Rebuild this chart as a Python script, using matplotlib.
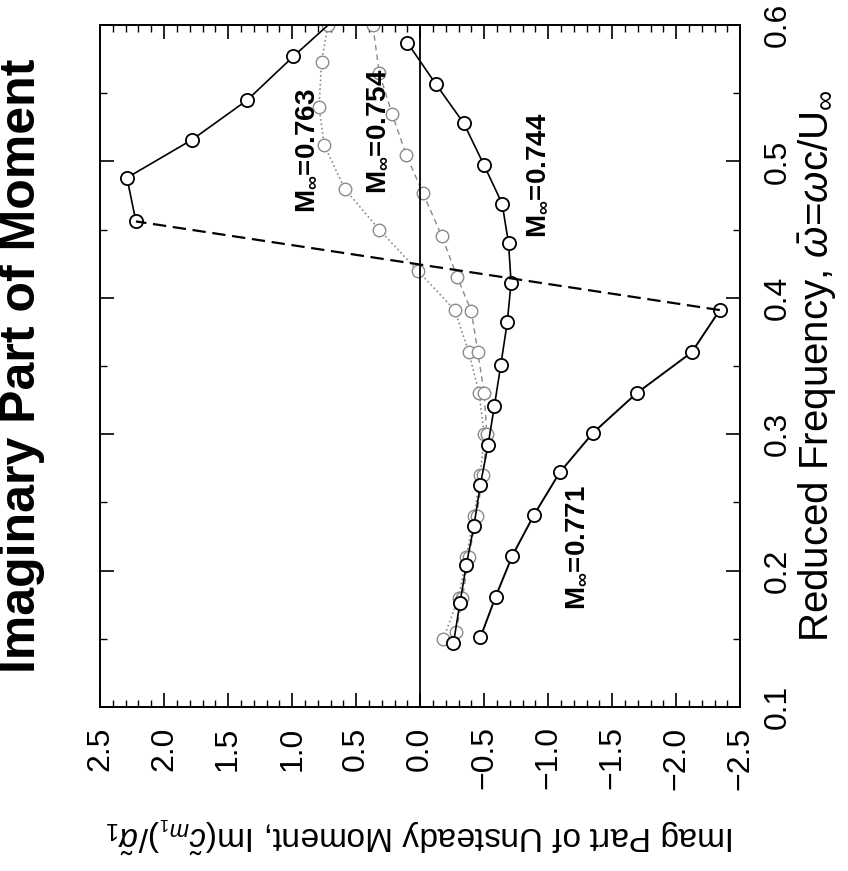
import matplotlib
matplotlib.use('Agg')
import matplotlib.pyplot as plt
from matplotlib.ticker import MultipleLocator

plt.rcParams['font.family'] = ['Liberation Sans', 'DejaVu Sans']
plt.rcParams['mathtext.fontset'] = 'custom'
plt.rcParams['mathtext.rm'] = 'Liberation Sans'
plt.rcParams['mathtext.it'] = 'Liberation Sans:italic'
plt.rcParams['mathtext.bf'] = 'Liberation Sans:bold'

# M=0.771 (solid, with jump between 0.391 and 0.456)
freq_771 = [0.151, 0.181, 0.211, 0.241, 0.272, 0.301, 0.330, 0.360, 0.391,
            0.456, 0.488, 0.516, 0.545, 0.577, 0.605]
im_771 = [-0.47, -0.59, -0.72, -0.89, -1.09, -1.35, -1.69, -2.12, -2.34,
          2.22, 2.29, 1.78, 1.35, 0.99, 0.66]

# M=0.744 (solid)
freq_744 = [0.147, 0.176, 0.204, 0.233, 0.263, 0.292, 0.321, 0.351, 0.382,
            0.411, 0.440, 0.469, 0.497, 0.528, 0.557, 0.587]
im_744 = [-0.26, -0.31, -0.36, -0.42, -0.47, -0.53, -0.58, -0.63, -0.68,
          -0.71, -0.69, -0.64, -0.50, -0.34, -0.12, 0.10]

# M=0.754 (dashed, grey)
freq_754 = [0.155, 0.180, 0.210, 0.240, 0.270, 0.300, 0.330, 0.360, 0.390,
            0.415, 0.445, 0.477, 0.505, 0.535, 0.565, 0.600]
im_754 = [-0.28, -0.33, -0.38, -0.44, -0.49, -0.52, -0.50, -0.45, -0.40,
          -0.29, -0.17, -0.02, 0.11, 0.22, 0.32, 0.37]

# M=0.763 (dotted, grey)
freq_763 = [0.150, 0.180, 0.210, 0.240, 0.270, 0.300, 0.330, 0.360, 0.391,
            0.420, 0.450, 0.480, 0.512, 0.540, 0.573, 0.600]
im_763 = [-0.18, -0.30, -0.36, -0.42, -0.47, -0.50, -0.46, -0.38, -0.27,
          0.02, 0.32, 0.59, 0.75, 0.79, 0.77, 0.72]

fig = plt.figure(figsize=(8.48, 8.71), dpi=100)
ax = fig.add_axes([0.118, 0.1883, 0.755, 0.783])

gray = '#8a8a8a'
ax.plot(im_763, freq_763, linestyle=':', color=gray, lw=1.2, marker='o',
        ms=9, mfc='white', mec=gray, mew=1.0)
ax.plot(im_754, freq_754, linestyle='--', color=gray, lw=1.0, marker='o',
        ms=9, mfc='white', mec=gray, mew=1.0, dashes=(4, 3))
ax.plot(im_744, freq_744, linestyle='-', color='black', lw=1.2, marker='o',
        ms=9.5, mfc='white', mec='black', mew=1.3)

# 0.771: lower branch, upper branch, dashed jump between them
ax.plot(im_771[:9], freq_771[:9], linestyle='-', color='black', lw=1.4,
        marker='o', ms=9.5, mfc='white', mec='black', mew=1.3)
ax.plot(im_771[9:], freq_771[9:], linestyle='-', color='black', lw=1.2,
        marker='o', ms=9.5, mfc='white', mec='black', mew=1.3)
ax.plot(im_771[8:10], freq_771[8:10], linestyle='--', color='black', lw=1.6,
        dashes=(6, 3))

ax.axvline(0.0, color='black', lw=1.3)

ax.set_xlim(2.5, -2.5)
ax.set_ylim(0.1, 0.6)
ax.xaxis.set_major_locator(MultipleLocator(0.5))
ax.xaxis.set_minor_locator(MultipleLocator(0.1))
ax.yaxis.set_major_locator(MultipleLocator(0.1))
ax.yaxis.set_minor_locator(MultipleLocator(0.05))
ax.tick_params(which='both', direction='in', top=True, bottom=True,
               left=True, right=True, labelleft=False, labelright=True)
ax.tick_params(which='major', length=10, width=1.2)
ax.tick_params(which='minor', length=5, width=1.0)
ax.tick_params(axis='x', labelsize=23, pad=14)
ax.tick_params(axis='y', labelsize=23, pad=16)
ax.set_xticks([2.5, 2.0, 1.5, 1.0, 0.5, 0.0, -0.5, -1.0, -1.5, -2.0, -2.5])
ax.set_xticklabels(['2.5', '2.0', '1.5', '1.0', '0.5', '0.0', '\u22120.5',
                    '\u22121.0', '\u22121.5', '\u22122.0', '\u22122.5'],
                   rotation=90)
ax.set_yticks([0.1, 0.2, 0.3, 0.4, 0.5, 0.6])
ax.set_yticklabels(['0.1', '0.2', '0.3', '0.4', '0.5', '0.6'], rotation=90,
                   va='center')
for sp in ax.spines.values():
    sp.set_linewidth(1.4)

ax.set_xlabel(r'Imag Part of Unsteady Moment, Im($\tilde{c}_{m_1}$)/$\tilde{\alpha}_1$',
              fontsize=24, rotation=180, labelpad=18)
ax.yaxis.set_label_position('right')
ax.set_ylabel(r'Reduced Frequency, $\bar{\omega}$=$\omega$c/U$_\infty$',
              fontsize=29, rotation=90, labelpad=3)

fig.text(0.026, 0.58, 'Imaginary Part of Moment', rotation=90,
         fontsize=36, fontweight='bold', ha='center', va='center')

lab = dict(rotation=90, fontsize=20, fontweight='bold', ha='center',
           va='center')
ax.text(0.89, 0.508, r'$\mathbf{M_\infty}$=0.763', **lab)
ax.text(0.33, 0.522, r'$\mathbf{M_\infty}$=0.754', **lab)
ax.text(-0.92, 0.490, r'$\mathbf{M_\infty}$=0.744', **lab)
ax.text(-1.22, 0.217, r'$\mathbf{M_\infty}$=0.771', **lab)

fig.savefig('out.png', dpi=100)
